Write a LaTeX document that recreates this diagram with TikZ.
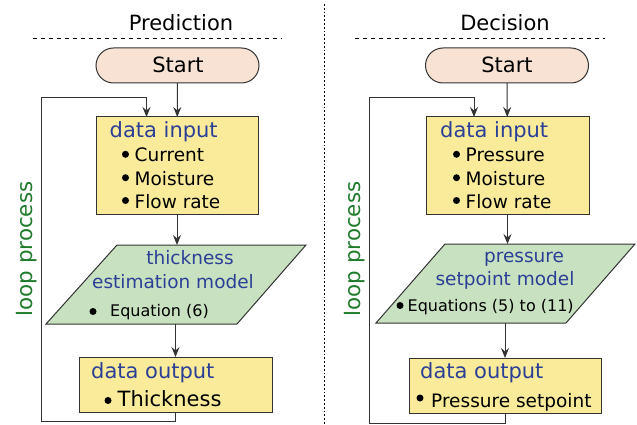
\documentclass[tikz,border=0pt]{standalone}
\usepackage{fontspec}
\setmainfont{DejaVu Sans}
\usetikzlibrary{shapes.misc,arrows.meta}
\definecolor{yfill}{HTML}{F9EB9A}
\definecolor{sfill}{HTML}{F8E2D4}
\definecolor{gfill}{HTML}{C8E1C1}
\definecolor{btext}{HTML}{2C3F96}
\definecolor{gtext}{HTML}{1F7B2B}
\definecolor{edge}{HTML}{333333}
\tikzset{
  arr/.style={draw=edge,line width=1pt,-{Stealth[length=10pt,width=8pt,inset=3.5pt]}},
  startbox/.style={draw=edge,line width=1pt,fill=sfill,rounded rectangle,minimum width=163pt,minimum height=35pt,inner sep=0pt,outer sep=0pt},
  ybox/.style={draw=edge,line width=1pt,fill=yfill,rectangle,inner sep=0pt,outer sep=0pt},
  pframe/.style={rectangle,inner sep=0pt,outer sep=0pt,minimum height=79pt},
  pshape/.style={draw=edge,line width=1pt,fill=gfill},
  ttl/.style={anchor=base,inner sep=0pt,font=\fontsize{21}{25}\selectfont},
  head/.style={anchor=base west,inner sep=0pt,text=btext,font=\fontsize{21}{25}\selectfont},
  mhead/.style={anchor=base,inner sep=0pt,text=btext,font=\fontsize{18.5}{22}\selectfont},
  item/.style={anchor=base west,inner sep=0pt,font=\fontsize{18.5}{22}\selectfont},
  bigitem/.style={anchor=base west,inner sep=0pt,font=\fontsize{21}{25}\selectfont},
  eq/.style={anchor=base west,inner sep=0pt,font=\fontsize{16}{19}\selectfont},
  dot/.style={circle,fill=black,inner sep=0pt,minimum size=7pt},
  loopt/.style={anchor=base,inner sep=0pt,rotate=90,text=gtext,font=\fontsize{21.4}{25}\selectfont},
}
\begin{document}
\begin{tikzpicture}[x=1pt,y=-1pt]
\useasboundingbox (0,0) rectangle (637,425);
% separators
\draw[line width=0.9pt,dash pattern=on 1.8pt off 2pt] (324,4) -- (324,425);
\draw[line width=0.9pt,dash pattern=on 4pt off 4pt] (33,38) -- (282,38);
\draw[line width=0.9pt,dash pattern=on 4pt off 4pt] (355,38) -- (605,38);
\node[ttl] (t1) at (181,30.7) {Prediction};
\node[ttl] (t2) at (505,30.7) {Decision};

% ---------- left column ----------
\node[startbox] (s1) at (177.5,65.5) {};
\node[ttl] (s1t) at (178,72.7) {Start};
\node[ybox,minimum width=162pt,minimum height=97pt] (in1) at (177,165.5) {};
\node[head] (in1h) at (109.5,138) {data input};
\node[dot] (b11) at (125.5,154.3) {};
\node[item] (i11) at (134.5,161.7) {Current};
\node[dot] (b12) at (125.5,177.7) {};
\node[item] (i12) at (134.5,185) {Moisture};
\node[dot] (b13) at (125.5,200.5) {};
\node[item] (i13) at (134.5,208.3) {Flow rate};
\node[pframe,minimum width=260pt] (p1) at (176,284.5) {};
\path[pshape] (p1.south west) -- ([xshift=71pt]p1.north west) -- (p1.north east) -- ([xshift=-69pt]p1.south east) -- cycle;
\node[mhead] (p1a) at (190,264) {thickness};
\node[mhead] (p1b) at (173,288) {estimation model};
\node[dot] (b14) at (93,311.5) {};
\node[eq] (e1) at (110,316) {Equation (6)};
\node[ybox,minimum width=193pt,minimum height=55pt] (out1) at (175.5,384.5) {};
\node[head] (out1h) at (91,378) {data output};
\node[dot] (b15) at (108,400.5) {};
\node[bigitem] (o1) at (117.5,406.5) {Thickness};
\node[loopt] (lp1) at (32,249) {loop process};
\draw[arr] (s1) -- (in1);
\draw[arr] (in1.south) -- (in1.south |- p1.north);
\draw[arr] (p1.south -| out1.north) -- (out1.north);
\coordinate (l1a) at (41,421.5);
\coordinate (l1b) at (41,98);
\coordinate (l1c) at ([xshift=-30.5pt]in1.north);
\draw[arr] (out1.south) |- (l1a) -- (l1b) -| (l1c);

% ---------- right column ----------
\node[startbox] (s2) at (507,65.5) {};
\node[ttl] (s2t) at (507,72.7) {Start};
\node[ybox,minimum width=163pt,minimum height=97pt] (in2) at (507.5,165.5) {};
\node[head] (in2h) at (440,138) {data input};
\node[dot] (b21) at (456.5,154.3) {};
\node[item] (i21) at (465.5,161.7) {Pressure};
\node[dot] (b22) at (456.5,177.7) {};
\node[item] (i22) at (465.5,185) {Moisture};
\node[dot] (b23) at (456.5,200.5) {};
\node[item] (i23) at (465.5,208.3) {Flow rate};
\node[pframe,minimum width=259pt] (p2) at (505.5,283.5) {};
\path[pshape] (p2.south west) -- ([xshift=69pt]p2.north west) -- (p2.north east) -- ([xshift=-69pt]p2.south east) -- cycle;
\node[mhead] (p2a) at (524,262) {pressure};
\node[mhead] (p2b) at (505,285.5) {setpoint model};
\node[dot] (b24) at (400,305.5) {};
\node[eq] (e2) at (407.5,311) {Equations (5) to (11)};
\node[ybox,minimum width=192pt,minimum height=55pt] (out2) at (505,385.5) {};
\node[head] (out2h) at (420,378) {data output};
\node[dot] (b25) at (420,398) {};
\node[item] (o2) at (431,407) {Pressure setpoint};
\node[loopt] (lp2) at (360,249) {loop process};
\draw[arr] (s2) -- (in2);
\draw[arr] (in2.south) -- (in2.south |- p2.north);
\draw[arr] (p2.south -| out2.north) -- (out2.north);
\coordinate (l2a) at (369,423);
\coordinate (l2b) at (369,98);
\coordinate (l2c) at ([xshift=-33.5pt]in2.north);
\draw[arr] (out2.south) |- (l2a) -- (l2b) -| (l2c);
\end{tikzpicture}
\end{document}
